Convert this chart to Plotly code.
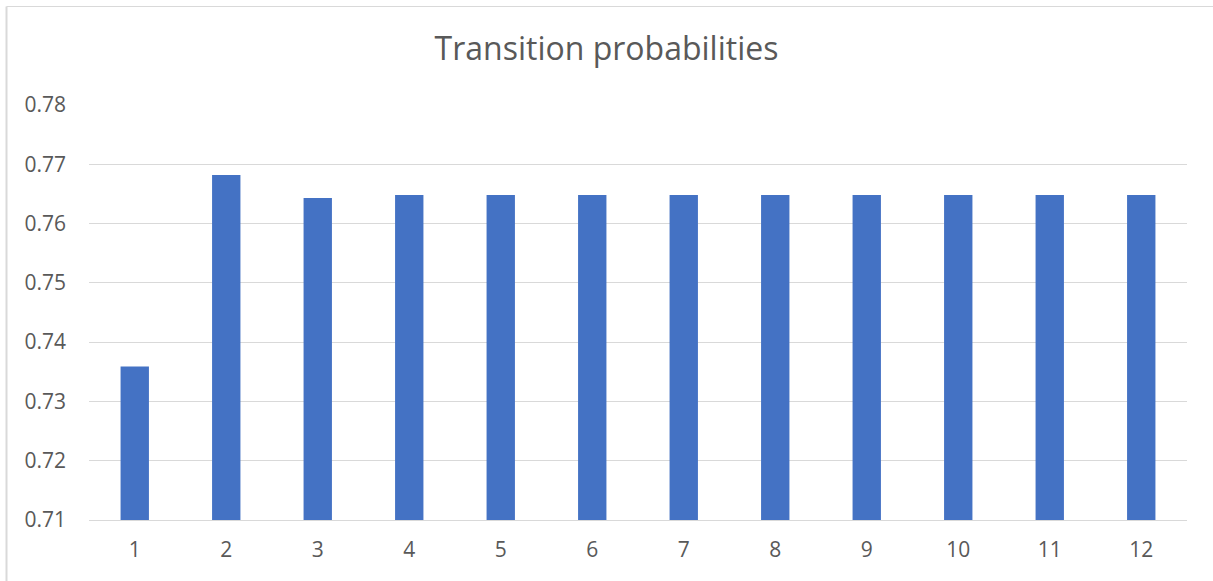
import plotly.graph_objects as go

# Transition probability per step
steps = ["1", "2", "3", "4", "5", "6", "7", "8", "9", "10", "11", "12"]
probabilities = [0.7359, 0.7682, 0.7643, 0.7648, 0.7648, 0.7648,
                 0.7648, 0.7648, 0.7648, 0.7648, 0.7648, 0.7648]
y_ticks = [0.71, 0.72, 0.73, 0.74, 0.75, 0.76, 0.77, 0.78]

W, H = 1213, 581
L, R, T, B = 89, 26, 105, 61
pw, ph = W - L - R, H - T - B

fig = go.Figure(go.Bar(x=steps, y=probabilities, marker=dict(color="#4472C4", line=dict(width=0)),
                       width=0.31, hoverinfo="x+y"))

font = "Open Sans, Liberation Sans, sans-serif"
grey = "#595959"

fig.update_layout(
    width=W, height=H,
    margin=dict(l=L, r=R, t=T, b=B),
    paper_bgcolor="white", plot_bgcolor="white",
    showlegend=False,
    title=dict(text="Transition probabilities", x=0.5, xanchor="center",
               y=1 - 49 / H, yanchor="middle",
               font=dict(family=font, size=32, color=grey)),
    xaxis=dict(type="category", showgrid=False, showline=True, linecolor="#d9d9d9", linewidth=1,
               ticks="", tickfont=dict(family=font, size=21, color=grey), ticklabelstandoff=11),
    yaxis=dict(range=[0.71, 0.78], tickvals=y_ticks, ticktext=[f"{v:.2f}" for v in y_ticks],
               showgrid=True, gridcolor="#d9d9d9", gridwidth=1, zeroline=False, showline=False,
               ticks="", tickfont=dict(family=font, size=21, color=grey), ticklabelstandoff=22),
)

# Outer chart border (left and top edges)
x_border = (6.5 - L) / pw
y_border = 1 + (T - 6.5) / ph
fig.add_shape(type="line", xref="paper", yref="paper", x0=x_border, x1=x_border,
              y0=y_border, y1=-0.3, line=dict(color="#d9d9d9", width=2))
fig.add_shape(type="line", xref="paper", yref="paper", x0=x_border, x1=1.2,
              y0=y_border, y1=y_border, line=dict(color="#d9d9d9", width=1))

fig.write_html("out.html")
